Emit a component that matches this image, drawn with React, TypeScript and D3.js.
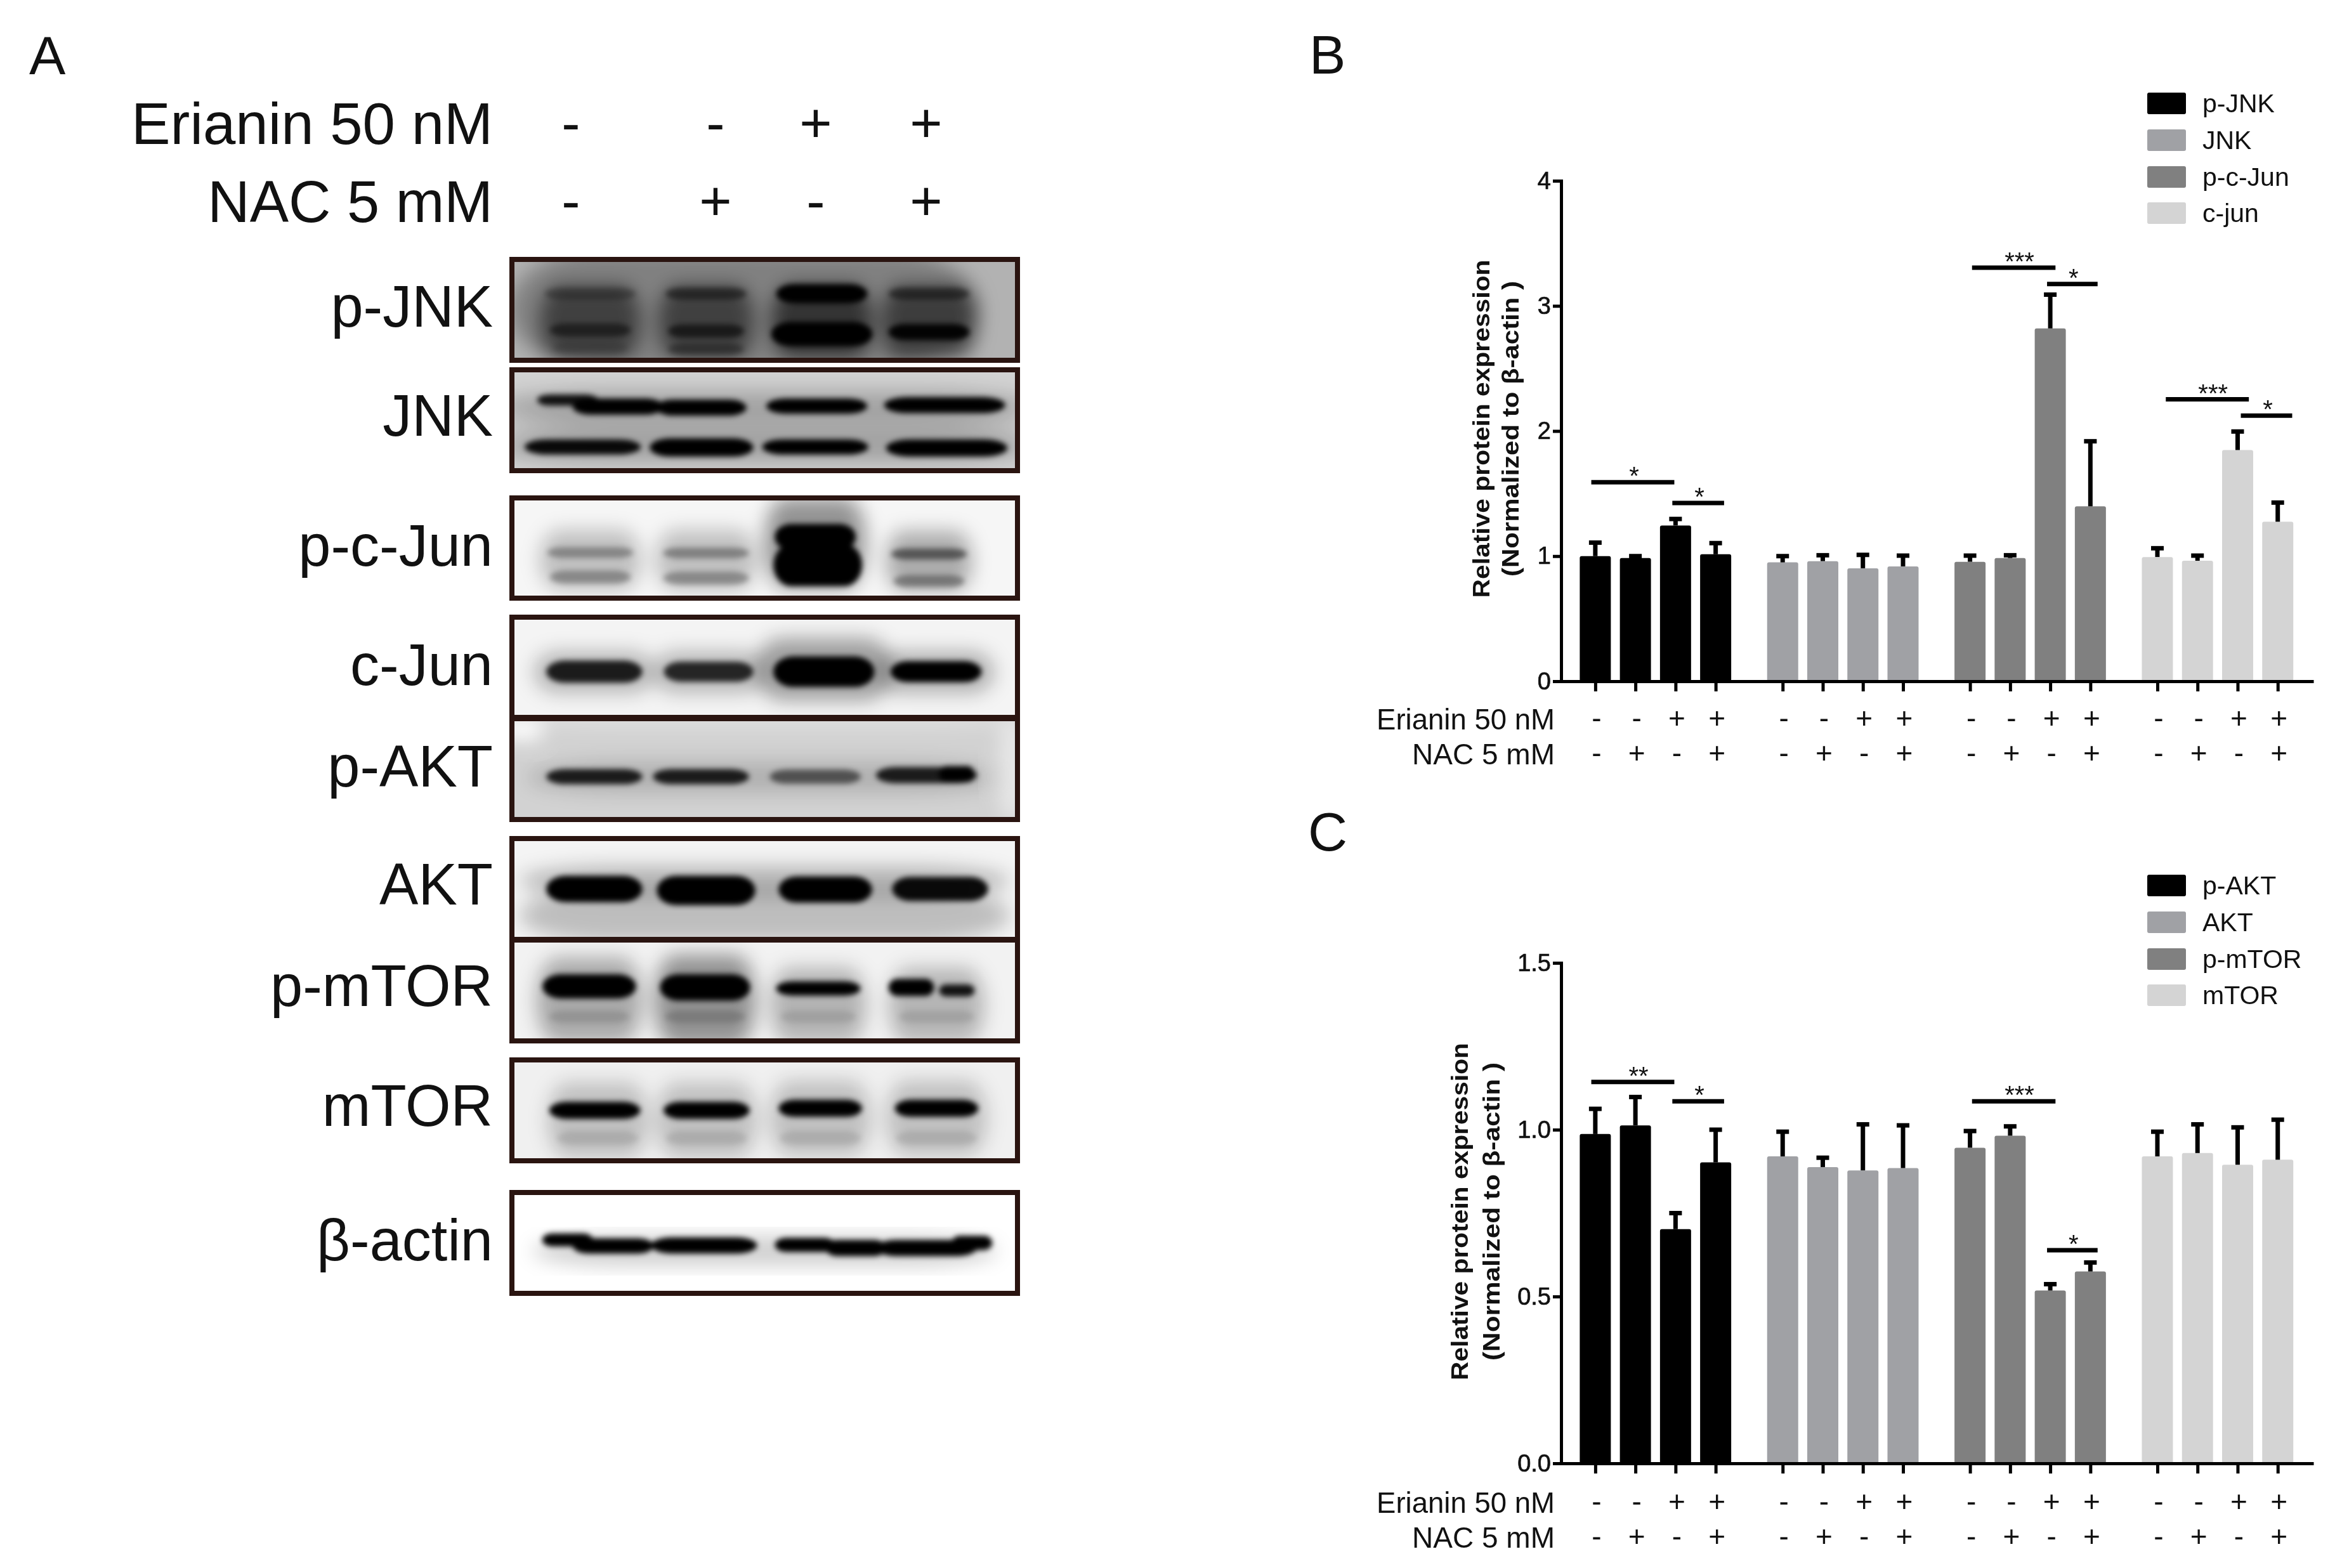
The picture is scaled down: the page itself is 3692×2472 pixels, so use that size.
import React, { useRef, useEffect } from "react";
import * as d3 from "d3";

const WIDTH = 3692;
const HEIGHT = 2472;
const FONT = "'Liberation Sans', Arial, sans-serif";
const SERIES_COLORS = ["#000000", "#a0a1a5", "#808080", "#d4d4d4"];

// sign rows under the bars, one per lane
const erianinSigns = ["-", "-", "+", "+"];
const nacSigns = ["-", "+", "-", "+"];

// Panel B, bar heights and top of the error bar
const seriesB = ["p-JNK", "JNK", "p-c-Jun", "c-jun"];
const pJnkMeans = [1.0, 0.985, 1.245, 1.015];
const pJnkTops = [1.108, 1.0, 1.297, 1.104];
const jnkMeans = [0.95, 0.96, 0.903, 0.918];
const jnkTops = [1.0, 1.007, 1.01, 1.004];
const pcJunMeans = [0.955, 0.985, 2.82, 1.398];
const pcJunTops = [1.004, 1.007, 3.09, 1.918];
const cJunMeans = [0.993, 0.963, 1.848, 1.275];
const cJunTops = [1.063, 1.004, 1.996, 1.428];
const ticksB = [0, 1, 2, 3, 4];
// from, to (bar positions), level, stars
const sigB: [number, number, number, string][] = [
  [-0.1, 1.97, 1.59, "*"],
  [1.92, 3.21, 1.424, "*"],
  [9.39, 11.47, 3.305, "***"],
  [11.26, 12.52, 3.175, "*"],
  [14.22, 16.29, 2.253, "***"],
  [16.09, 17.37, 2.123, "*"],
];

// Panel C
const seriesC = ["p-AKT", "AKT", "p-mTOR", "mTOR"];
const pAktMeans = [0.987, 1.013, 0.702, 0.902];
const pAktTops = [1.0625, 1.098, 0.75, 1.0];
const aktMeans = [0.92, 0.888, 0.878, 0.885];
const aktTops = [0.994, 0.916, 1.016, 1.013];
const pMtorMeans = [0.946, 0.982, 0.518, 0.575];
const pMtorTops = [0.996, 1.01, 0.537, 0.602];
const mtorMeans = [0.92, 0.93, 0.895, 0.91];
const mtorTops = [0.994, 1.016, 1.007, 1.03];
const ticksC = [0, 0.5, 1, 1.5];
const sigC: [number, number, number, string][] = [
  [-0.1, 1.97, 1.143, "**"],
  [1.92, 3.21, 1.085, "*"],
  [9.39, 11.47, 1.085, "***"],
  [11.26, 12.52, 0.639, "*"],
];

// Blots: [centre x, centre y, width, height, darkness] as fractions of the blot, darkness < 0 is white
type Band = [number, number, number, number, number];
const pJnkSmears: Band[] = [[0.46, 0.5, 0.93, 1.2, 0.28], [0.155, 0.62, 0.2, 0.72, 0.5], [0.384, 0.62, 0.19, 0.72, 0.5], [0.613, 0.62, 0.2, 0.72, 0.6], [0.825, 0.62, 0.19, 0.72, 0.52]];
const pJnkBands: Band[] = [[0.155, 0.34, 0.18, 0.06, 0.3], [0.155, 0.7, 0.16, 0.07, 0.5], [0.155, 0.88, 0.15, 0.05, 0.15], [0.384, 0.34, 0.16, 0.06, 0.5], [0.384, 0.71, 0.15, 0.07, 0.6], [0.384, 0.89, 0.15, 0.05, 0.35], [0.613, 0.34, 0.18, 0.13, 1], [0.613, 0.74, 0.2, 0.18, 1], [0.825, 0.34, 0.16, 0.06, 0.5], [0.825, 0.72, 0.16, 0.1, 0.95]];
const jnkSmears: Band[] = [[0.5, 0.36, 1.05, 0.3, 0.22], [0.5, 0.77, 1.05, 0.3, 0.22], [0.5, 0.57, 1.05, 0.2, 0.12]];
const jnkBands: Band[] = [[0.11, 0.3, 0.12, 0.05, 0.9], [0.21, 0.365, 0.18, 0.1, 1], [0.374, 0.375, 0.18, 0.1, 1], [0.603, 0.36, 0.2, 0.09, 1], [0.856, 0.35, 0.24, 0.1, 1], [0.14, 0.765, 0.23, 0.09, 0.95], [0.375, 0.77, 0.205, 0.12, 1], [0.6, 0.765, 0.21, 0.09, 1], [0.86, 0.775, 0.24, 0.11, 1]];
const pcJunSmears: Band[] = [[0.155, 0.62, 0.2, 0.6, 0.22], [0.384, 0.62, 0.2, 0.6, 0.22], [0.6, 0.45, 0.2, 0.9, 0.4], [0.825, 0.63, 0.17, 0.6, 0.3]];
const pcJunBands: Band[] = [[0.155, 0.545, 0.17, 0.05, 0.3], [0.155, 0.79, 0.16, 0.07, 0.3], [0.384, 0.55, 0.17, 0.05, 0.33], [0.384, 0.8, 0.17, 0.07, 0.3], [0.6, 0.39, 0.16, 0.2, 1], [0.605, 0.67, 0.175, 0.36, 1], [0.825, 0.56, 0.15, 0.05, 0.5], [0.825, 0.83, 0.14, 0.06, 0.35]];
const cJunSmears: Band[] = [[0.163, 0.55, 0.24, 0.42, 0.25], [0.389, 0.55, 0.22, 0.42, 0.25], [0.617, 0.52, 0.27, 0.62, 0.35], [0.839, 0.55, 0.23, 0.42, 0.28]];
const cJunBands: Band[] = [[0.163, 0.544, 0.19, 0.16, 0.85], [0.389, 0.544, 0.177, 0.14, 0.8], [0.617, 0.544, 0.2, 0.245, 1], [0.839, 0.544, 0.18, 0.15, 1]];
const pAktSmears: Band[] = [[0.02, 0.1, 0.08, 0.22, -1], [0.5, 0.01, 1, 0.06, -0.8], [0.5, 0.58, 0.94, 0.3, 0.16], [0.99, 0.5, 0.05, 1, -0.5]];
const pAktBands: Band[] = [[0.163, 0.575, 0.19, 0.09, 0.85], [0.374, 0.575, 0.19, 0.09, 0.85], [0.6, 0.575, 0.18, 0.08, 0.55], [0.82, 0.56, 0.2, 0.1, 0.85], [0.88, 0.55, 0.07, 0.1, 1]];
const aktSmears: Band[] = [[0.5, 0.76, 0.97, 0.55, 0.22], [0.5, 0.42, 0.97, 0.3, 0.25]];
const aktBands: Band[] = [[0.163, 0.5, 0.19, 0.2, 1], [0.384, 0.515, 0.195, 0.23, 1], [0.62, 0.505, 0.185, 0.2, 1], [0.847, 0.5, 0.19, 0.18, 0.95]];
const pMtorSmears: Band[] = [[0.153, 0.6, 0.21, 0.85, 0.3], [0.382, 0.6, 0.2, 0.9, 0.4], [0.606, 0.65, 0.19, 0.75, 0.26], [0.84, 0.65, 0.19, 0.75, 0.25]];
const pMtorBands: Band[] = [[0.153, 0.46, 0.185, 0.18, 1], [0.382, 0.47, 0.178, 0.2, 1], [0.606, 0.48, 0.167, 0.08, 1], [0.79, 0.47, 0.09, 0.11, 1], [0.88, 0.5, 0.07, 0.06, 0.9], [0.153, 0.76, 0.16, 0.06, 0.12], [0.382, 0.76, 0.16, 0.06, 0.15], [0.606, 0.76, 0.15, 0.06, 0.1], [0.84, 0.76, 0.15, 0.06, 0.1]];
const mTorSmears: Band[] = [[0.17, 0.6, 0.2, 0.75, 0.2], [0.385, 0.6, 0.2, 0.75, 0.2], [0.61, 0.58, 0.2, 0.75, 0.2], [0.84, 0.58, 0.2, 0.75, 0.2]];
const mTorBands: Band[] = [[0.164, 0.5, 0.18, 0.11, 1], [0.385, 0.5, 0.17, 0.11, 1], [0.61, 0.48, 0.165, 0.11, 1], [0.84, 0.48, 0.165, 0.11, 1], [0.17, 0.775, 0.16, 0.08, 0.1], [0.385, 0.775, 0.16, 0.08, 0.1], [0.61, 0.775, 0.16, 0.08, 0.1], [0.84, 0.775, 0.16, 0.08, 0.1]];
const actinSmears: Band[] = [[0.5, 0.58, 0.92, 0.3, 0.18]];
const actinBands: Band[] = [[0.11, 0.47, 0.1, 0.07, 1], [0.2, 0.53, 0.16, 0.09, 1], [0.38, 0.525, 0.21, 0.1, 1], [0.58, 0.52, 0.12, 0.08, 1], [0.68, 0.55, 0.12, 0.1, 1], [0.82, 0.55, 0.2, 0.1, 1], [0.91, 0.5, 0.08, 0.08, 1]];

const blotNames = ["p-JNK", "JNK", "p-c-Jun", "c-Jun", "p-AKT", "AKT", "p-mTOR", "mTOR", "β-actin"];
const blotLabelY = [483, 655, 860, 1048, 1208, 1394, 1554, 1743, 1955];
const blotTops = [405, 579, 781, 969, 1129, 1318, 1478, 1667, 1876];
const blotBottoms = [572, 746, 947, 1135, 1296, 1485, 1645, 1834, 2043];
const blotGrays = ["#b2b2b2", "#d2d2d2", "#f6f6f6", "#f4f4f4", "#d2d2d2", "#f4f4f4", "#f2f2f2", "#f0f0f0", "#ffffff"];
const blotSmears = [pJnkSmears, jnkSmears, pcJunSmears, cJunSmears, pAktSmears, aktSmears, pMtorSmears, mTorSmears, actinSmears];
const blotBands = [pJnkBands, jnkBands, pcJunBands, cJunBands, pAktBands, aktBands, pMtorBands, mTorBands, actinBands];
const laneSignX = [900, 1128, 1286, 1460];

type Sel = d3.Selection<any, any, any, any>;

function addText(g: Sel, x: number, y: number, s: string, size: number, anchor = "start", len?: number) {
  const t = g.append("text")
    .attr("x", x).attr("y", y)
    .attr("dy", "0.35em")
    .attr("text-anchor", anchor)
    .attr("font-family", FONT)
    .attr("font-size", size)
    .attr("fill", "#111")
    .text(s);
  if (len) t.attr("textLength", len).attr("lengthAdjust", "spacingAndGlyphs");
  return t;
}

function drawBlots(svg: Sel) {
  const left = 807, right = 1604;
  const defs = svg.append("defs");
  defs.append("filter").attr("id", "soft").attr("x", "-30%").attr("y", "-30%").attr("width", "160%").attr("height", "160%")
    .append("feGaussianBlur").attr("stdDeviation", 15);
  defs.append("filter").attr("id", "tight").attr("x", "-30%").attr("y", "-60%").attr("width", "160%").attr("height", "220%")
    .append("feGaussianBlur").attr("stdDeviation", 4.5);

  blotNames.forEach((name, i) => {
    const top = blotTops[i] + 4, bottom = blotBottoms[i] - 4;
    const x = d3.scaleLinear().domain([0, 1]).range([left, right]);
    const y = d3.scaleLinear().domain([0, 1]).range([top, bottom]);
    defs.append("clipPath").attr("id", `blot-${i}`)
      .append("rect").attr("x", left).attr("y", top).attr("width", right - left).attr("height", bottom - top);

    const g = svg.append("g");
    const clipped = g.append("g").attr("clip-path", `url(#blot-${i})`);
    clipped.append("rect").attr("x", left).attr("y", top).attr("width", right - left).attr("height", bottom - top).attr("fill", blotGrays[i]);

    // the extra height makes up for what the blur eats from thin bands
    const drawBands = (rows: Band[], filter: string, extra: number) => {
      clipped.append("g").attr("filter", `url(#${filter})`)
        .selectAll("rect").data(rows).join("rect")
        .attr("x", d => x(d[0] - d[2] / 2))
        .attr("y", d => y(d[1] - (d[3] + extra) / 2))
        .attr("width", d => x(d[2]) - x(0))
        .attr("height", d => y(d[3] + extra) - y(0))
        .attr("rx", d => (x(d[2]) - x(0)) / 5)
        .attr("ry", d => (y(d[3] + extra) - y(0)) / 2)
        .attr("fill", d => (d[4] < 0 ? "#fff" : "#000"))
        .attr("opacity", d => Math.abs(d[4]));
    };
    drawBands(blotSmears[i], "soft", 0);
    drawBands(blotBands[i], "tight", 0.06);

    g.append("rect").attr("x", left).attr("y", top).attr("width", right - left).attr("height", bottom - top)
      .attr("fill", "none").attr("stroke", "#2a1410").attr("stroke-width", 8);
    addText(g, 777, blotLabelY[i], name, 92, "end");
  });

  addText(svg, 777, 195, "Erianin 50 nM", 92, "end", 570);
  addText(svg, 777, 318, "NAC 5 mM", 92, "end");
  laneSignX.forEach((lx, i) => {
    addText(svg, lx, 193, erianinSigns[i], 88, "middle");
    addText(svg, lx, 316, nacSigns[i], 88, "middle");
  });
}

type PanelOpts = {
  names: string[];
  means: number[][];
  tops: number[][];
  sig: [number, number, number, string][];
  ticks: number[];
  tickFormat: (d: number) => string;
  yTop: number;
  yBottom: number;
  titleX: number[];
  titleY: number;
  titleLen: number[];
  legendY: number[];
  erianinY: number;
  nacY: number;
};

function drawBars(svg: Sel, o: PanelOpts) {
  const g = svg.append("g");
  const x = d3.scaleLinear().domain([-1.01, 17.9]).range([2451, 3647]);
  const y = d3.scaleLinear().domain([0, d3.max(o.ticks) as number]).range([o.yBottom, o.yTop]);
  const barW = 49;
  const pos = (groupIdx: number, lane: number) => groupIdx * 4.67 + lane;

  const flat = o.means.flatMap((row, gi) =>
    row.map((v, lane) => ({ gi, lane, v, top: o.tops[gi][lane], p: pos(gi, lane) }))
  );

  g.append("g").selectAll("rect").data(flat).join("rect")
    .attr("x", d => x(d.p) - barW / 2)
    .attr("y", d => y(d.v))
    .attr("width", barW)
    .attr("height", d => y(0) - y(d.v))
    .attr("rx", 3)
    .attr("fill", d => SERIES_COLORS[d.gi]);

  // error bars only go up
  const err = g.append("g").attr("stroke", "#000").attr("stroke-width", 7);
  err.selectAll(".stem").data(flat).join("line").attr("class", "stem")
    .attr("x1", d => x(d.p)).attr("x2", d => x(d.p))
    .attr("y1", d => y(d.v)).attr("y2", d => y(d.top));
  err.selectAll(".cap").data(flat).join("line").attr("class", "cap")
    .attr("x1", d => x(d.p) - 10).attr("x2", d => x(d.p) + 10)
    .attr("y1", d => y(d.top)).attr("y2", d => y(d.top));

  // axes
  const yAxis = d3.axisLeft(y).tickValues(o.ticks).tickFormat(o.tickFormat as any).tickSize(13).tickPadding(3);
  const xAxis = d3.axisBottom(x).tickValues(flat.map(d => d.p)).tickFormat(() => "").tickSize(16).tickSizeOuter(0);
  const ya = g.append("g").attr("transform", "translate(2461,0)").call(yAxis as any);
  const xa = g.append("g").attr("transform", `translate(0,${o.yBottom})`).call(xAxis as any);
  [ya, xa].forEach(a => {
    a.selectAll("path,line").attr("stroke", "#000").attr("stroke-width", 5);
    a.selectAll("text").attr("font-family", FONT).attr("font-size", 38).attr("fill", "#111")
      .attr("stroke", "#111").attr("stroke-width", 0.7);
  });

  // significance lines, the stars sit a bit right of the middle
  o.sig.forEach(([from, to, level, stars]) => {
    g.append("line")
      .attr("x1", x(from)).attr("x2", x(to))
      .attr("y1", y(level)).attr("y2", y(level))
      .attr("stroke", "#000").attr("stroke-width", 7);
    addText(g, (x(from) + x(to)) / 2 + (stars.length > 1 ? 9 : 2), y(level) - 10, stars, 40, "middle");
  });

  // y title, two rotated lines
  ["Relative protein expression", "(Normalized to β-actin )"].forEach((line, i) => {
    addText(g, 0, 0, line, 37, "middle", o.titleLen[i])
      .attr("x", null).attr("y", null)
      .attr("font-weight", 700)
      .attr("transform", `translate(${o.titleX[i]},${o.titleY}) rotate(-90)`);
  });

  // sign rows
  addText(g, 2451, o.erianinY, "Erianin 50 nM", 46, "end", 281);
  addText(g, 2451, o.nacY, "NAC 5 mM", 46, "end", 225);
  flat.forEach(d => {
    addText(g, x(d.p) + 2, o.erianinY - 2, erianinSigns[d.lane], 46, "middle");
    addText(g, x(d.p) + 2, o.nacY - 2, nacSigns[d.lane], 46, "middle");
  });

  // legend
  o.names.forEach((name, i) => {
    g.append("rect")
      .attr("x", 3385).attr("y", o.legendY[i] - 17)
      .attr("width", 61).attr("height", 34).attr("rx", 3)
      .attr("fill", SERIES_COLORS[i]);
    addText(g, 3472, o.legendY[i], name, 41);
  });
}

const App = () => {
  const svgRef = useRef<SVGSVGElement>(null);

  useEffect(() => {
    const svg = d3.select(svgRef.current) as Sel;
    svg.selectAll("*").remove();
    svg.append("rect").attr("width", WIDTH).attr("height", HEIGHT).attr("fill", "#fff");

    addText(svg, 46, 87, "A", 86);
    addText(svg, 2064, 86, "B", 86);
    addText(svg, 2062, 1311, "C", 86);

    drawBlots(svg);

    drawBars(svg, {
      names: seriesB,
      means: [pJnkMeans, jnkMeans, pcJunMeans, cJunMeans],
      tops: [pJnkTops, jnkTops, pcJunTops, cJunTops],
      sig: sigB,
      ticks: ticksB,
      tickFormat: d => String(d),
      yTop: 285,
      yBottom: 1074,
      titleX: [2335, 2381],
      titleY: 676,
      titleLen: [533, 466],
      legendY: [163, 221, 279, 336],
      erianinY: 1134,
      nacY: 1189,
    });

    drawBars(svg, {
      names: seriesC,
      means: [pAktMeans, aktMeans, pMtorMeans, mtorMeans],
      tops: [pAktTops, aktTops, pMtorTops, mtorTops],
      sig: sigC,
      ticks: ticksC,
      tickFormat: d3.format(".1f"),
      yTop: 1518,
      yBottom: 2307,
      titleX: [2301, 2351],
      titleY: 1910,
      titleLen: [532, 470],
      legendY: [1396, 1454, 1512, 1569],
      erianinY: 2369,
      nacY: 2424,
    });
  }, []);

  return (
    <svg
      ref={svgRef}
      width={WIDTH}
      height={HEIGHT}
      style={{ position: "absolute", left: 0, top: 0, display: "block" }}
    />
  );
};

export default App;
